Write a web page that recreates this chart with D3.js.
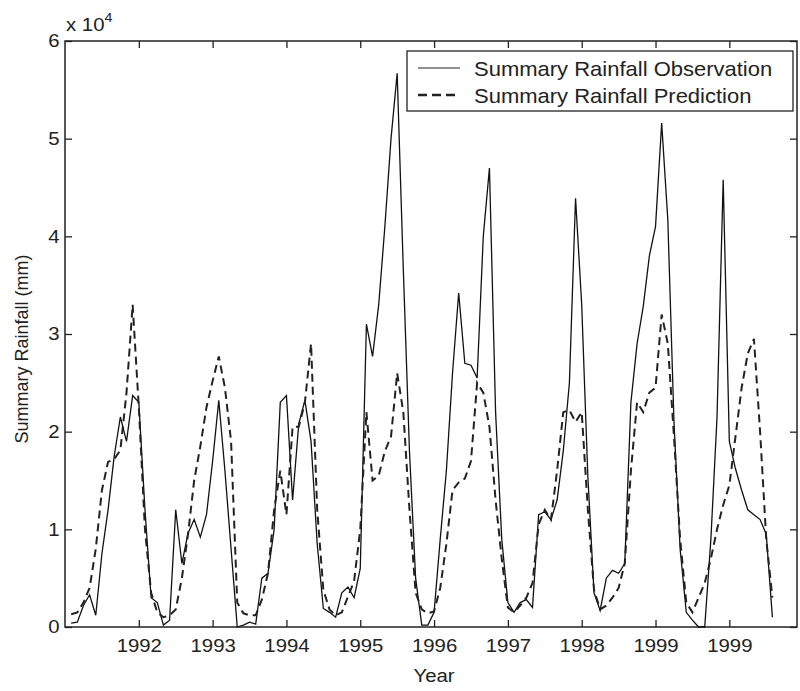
<!DOCTYPE html>
<html>
<head>
<meta charset="utf-8">
<script src="https://cdn.jsdelivr.net/npm/d3@7"></script>
<style>
  body { margin: 0; background: #fff; }
  text { font-family: "Liberation Sans", Arial, sans-serif; fill: #222; }
</style>
</head>
<body>
<script>
// monthly values in units of 1e4 mm, month index starts at 1
var observed = [0.04, 0.05, 0.22, 0.33, 0.12, 0.75, 1.2, 1.75, 2.15, 1.9,
  2.37, 2.3, 1.2, 0.3, 0.25, 0.02, 0.07, 1.2, 0.65, 0.96,
  1.1, 0.92, 1.15, 1.7, 2.32, 1.6, 0.8, 0.0, 0.02, 0.05,
  0.03, 0.5, 0.55, 1.0, 2.3, 2.37, 1.3, 2.08, 2.32, 1.9,
  0.85, 0.19, 0.15, 0.1, 0.35, 0.41, 0.3, 0.6, 3.1, 2.77,
  3.3, 4.1, 5.0, 5.67, 3.66, 1.8, 0.5, 0.02, 0.02, 0.15,
  0.9, 1.6, 2.6, 3.42, 2.7, 2.68, 2.55, 4.0, 4.7, 2.2,
  0.9, 0.25, 0.15, 0.25, 0.28, 0.2, 1.15, 1.18, 1.1, 1.3,
  1.8, 2.5, 4.39, 3.3, 1.54, 0.35, 0.17, 0.5, 0.58, 0.55,
  0.65, 2.3, 2.9, 3.28, 3.8, 4.1, 5.16, 4.17, 2.1, 0.8,
  0.15, 0.07, 0.0, 0.0, 0.9, 2.15, 4.58, 1.9, 1.62, 1.4,
  1.2, 1.15, 1.1, 0.95, 0.1];

var predicted = [0.13, 0.15, 0.25, 0.4, 0.8, 1.4, 1.69, 1.72, 1.81, 2.4,
  3.3, 2.25, 1.0, 0.35, 0.15, 0.1, 0.12, 0.18, 0.5, 0.95,
  1.5, 1.85, 2.25, 2.52, 2.77, 2.45, 1.9, 0.25, 0.14, 0.12,
  0.12, 0.28, 0.55, 1.2, 1.6, 1.15, 2.05, 2.05, 2.3, 2.9,
  1.2, 0.38, 0.18, 0.12, 0.15, 0.31, 0.47, 1.0, 2.2, 1.5,
  1.55, 1.8, 1.95, 2.6, 2.2, 1.2, 0.35, 0.18, 0.14, 0.16,
  0.4, 0.85, 1.4, 1.48, 1.52, 1.7, 2.5, 2.4, 2.05, 1.3,
  0.7, 0.2, 0.15, 0.22, 0.3, 0.45, 1.05, 1.2, 1.1, 1.6,
  2.2, 2.22, 2.1, 2.2, 1.2, 0.38, 0.18, 0.22, 0.3, 0.4,
  0.65, 1.6, 2.3, 2.2, 2.4, 2.45, 3.2, 2.9, 1.95, 0.9,
  0.25, 0.15, 0.3, 0.45, 0.7, 1.0, 1.25, 1.45, 1.95, 2.45,
  2.8, 2.95, 2.0, 0.9, 0.3];

var tickMonths = [12, 24, 36, 48, 60, 72, 84, 96, 108];
var tickLabels = ["1992", "1993", "1994", "1995", "1996", "1997", "1998", "1999", "1999"];
var yTicks = [0, 1, 2, 3, 4, 5, 6];
var seriesNames = ["Summary Rainfall Observation", "Summary Rainfall Prediction"];

var svgWidth = 800, svgHeight = 691;
var margin = {top: 41, right: 3, bottom: 64, left: 65},
    width = svgWidth - margin.left - margin.right,
    height = svgHeight - margin.top - margin.bottom;

// the original figure is stretched sideways a little
var stretch = "scale(1.1,1)";

var svg = d3.select("body").append("svg").attr("width", svgWidth).attr("height", svgHeight);
var g = svg.append("g").attr("transform", `translate(${margin.left},${margin.top})`);

var x = d3.scaleLinear().domain([0, 119]).range([0, width]);
var y = d3.scaleLinear().domain([0, 6]).range([height, 0]);

var tickLen = 7;

// bottom axis with labels, ticks pointing inward
var xAxis = d3.axisBottom(x).tickValues(tickMonths)
  .tickFormat(function(d, i) { return tickLabels[i]; })
  .tickSizeInner(-tickLen).tickSizeOuter(0).tickPadding(12);
g.append("g").attr("transform", `translate(0,${height})`).call(xAxis)
  .call(function(a) { a.select(".domain").remove(); })
  .selectAll("text").attr("font-size", 18.5).attr("fill", "#222")
  .attr("transform", stretch);

// top mirrored ticks
g.append("g").call(d3.axisTop(x).tickValues(tickMonths).tickFormat("")
  .tickSizeInner(-tickLen).tickSizeOuter(0))
  .call(function(a) { a.select(".domain").remove(); });

var yAxis = d3.axisLeft(y).tickValues(yTicks).tickFormat(d3.format("d"))
  .tickSizeInner(-tickLen).tickSizeOuter(0).tickPadding(5);
g.append("g").call(yAxis)
  .call(function(a) { a.select(".domain").remove(); })
  .selectAll("text").attr("font-size", 18.5).attr("fill", "#222")
  .attr("transform", stretch);

g.append("g").attr("transform", `translate(${width},0)`)
  .call(d3.axisRight(y).tickValues(yTicks).tickFormat("")
    .tickSizeInner(-tickLen).tickSizeOuter(0))
  .call(function(a) { a.select(".domain").remove(); });

g.selectAll(".tick line").attr("stroke", "#222").attr("stroke-width", 1.3);

// frame
g.append("rect").attr("width", width).attr("height", height)
  .attr("fill", "none").attr("stroke", "#222").attr("stroke-width", 1.5);

var line = d3.line()
  .x(function(d, i) { return x(i + 1); })
  .y(function(d) { return y(d); });

g.append("path").datum(observed).attr("d", line)
  .attr("fill", "none").attr("stroke", "#111").attr("stroke-width", 1.3)
  .attr("stroke-linejoin", "miter");

g.append("path").datum(predicted).attr("d", line)
  .attr("fill", "none").attr("stroke", "#222").attr("stroke-width", 2)
  .attr("stroke-dasharray", "8,5");

// exponent label
var expo = svg.append("text").attr("transform", `translate(66,31) ${stretch}`).attr("font-size", 18.5);
expo.append("tspan").text("x 10");
expo.append("tspan").attr("dy", -9).attr("font-size", 13).text("4");

// axis titles
svg.append("text").attr("text-anchor", "middle")
  .attr("transform", `translate(434,682) ${stretch}`)
  .attr("font-size", 18.5).text("Year");

svg.append("text").attr("text-anchor", "middle")
  .attr("transform", `translate(28,${margin.top + height / 2 + 15})rotate(-90)`)
  .attr("font-size", 18).text("Summary Rainfall (mm)");

// legend
var legend = g.append("g").attr("transform", `translate(${407 - margin.left},${51 - margin.top})`);
legend.append("rect").attr("width", 386).attr("height", 60)
  .attr("fill", "#fff").attr("stroke", "#222").attr("stroke-width", 1.3);
seriesNames.forEach(function(name, i) {
  var ly = 17 + i * 27;
  legend.append("line").attr("x1", 11).attr("x2", 53).attr("y1", ly).attr("y2", ly)
    .attr("stroke", "#222").attr("stroke-width", i === 0 ? 1.2 : 2.4)
    .attr("stroke-dasharray", i === 0 ? null : "9,5");
  legend.append("text").attr("transform", `translate(67,${ly + 7.5}) ${stretch}`)
    .attr("font-size", 20).text(name);
});
</script>
</body>
</html>
